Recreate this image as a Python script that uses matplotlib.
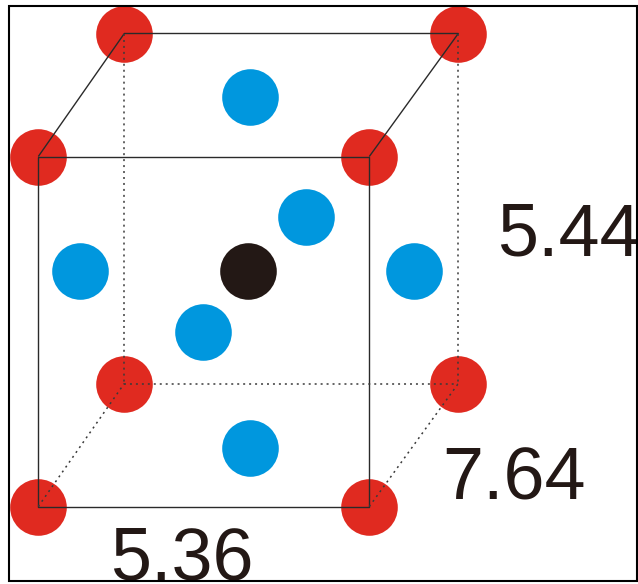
import matplotlib
matplotlib.use("Agg")
import matplotlib.pyplot as plt

W, H = 638, 584
red_x = [125, 459, 39, 370, 125, 459, 39, 370]
red_y = [34, 34, 157, 157, 384, 384, 507, 507]
blue_x = [251, 307, 81, 415, 204, 251]
blue_y = [97, 217, 271, 271, 332, 448]
black_x = [249]
black_y = [271]
solid_x = [[39, 370, 370, 39, 39], [39, 125, 459, 370]]
solid_y = [[157, 157, 507, 507, 157], [157, 34, 34, 157]]
dotted_x = [[125, 125], [459, 459], [125, 459], [39, 125], [370, 459]]
dotted_y = [[34, 384], [34, 384], [384, 384], [507, 384], [507, 384]]
labels = ["5.44", "7.64", "5.36"]
label_x = [498, 443, 111]
label_y = [256, 500, 580]

plt.rcParams["font.family"] = ["Liberation Sans", "DejaVu Sans"]
fig = plt.figure(figsize=(W / 100, H / 100), dpi=100, facecolor="white")
ax = fig.add_axes([0, 0, 1, 1])
ax.set_xlim(0.7, W + 0.7)
ax.set_ylim(H + 0.5, 0.5)
ax.axis("off")
frame = plt.Rectangle((10, 6), 628, 575.5, fill=False, ec="#000000", lw=1.5, clip_on=False, zorder=5)
ax.add_patch(frame)
for xs, ys in zip(solid_x, solid_y):
    ax.plot(xs, ys, color="#2a2a2a", lw=1.0, zorder=3, solid_capstyle="butt")
for xs, ys in zip(dotted_x, dotted_y):
    ax.plot(xs, ys, color="#3a3a3a", lw=1.1, ls=(0, (1.3, 2.6)), zorder=3)
ms = 56.6 * 0.72
ax.plot(red_x, red_y, "o", ms=ms, color="#e02a20", mew=0, zorder=2)
ax.plot(blue_x, blue_y, "o", ms=ms, color="#0097de", mew=0, zorder=2)
ax.plot(black_x, black_y, "o", ms=ms, color="#231815", mew=0, zorder=2)
for t, x, y in zip(labels, label_x, label_y):
    ax.text(x, y, t, fontsize=53, color="#231815", ha="left", va="baseline", clip_on=True, clip_path=frame)
fig.savefig("out.png", dpi=100)
